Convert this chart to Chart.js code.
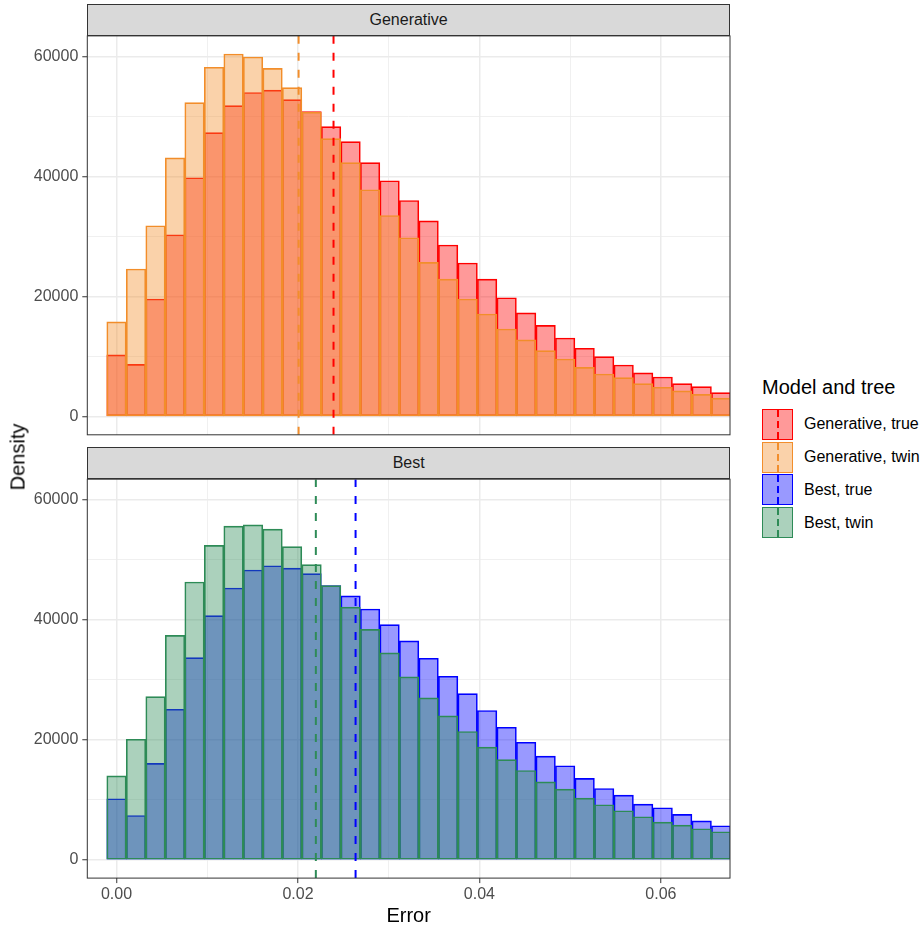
<!DOCTYPE html>
<html>
<head>
<meta charset="utf-8">
<title>Error density</title>
<script src="https://cdn.jsdelivr.net/npm/chart.js@4.4.1/dist/chart.umd.min.js"></script>
<style>
  body { margin: 0; background: #fff; font-family: "Liberation Sans", Arial, sans-serif; }
  #wrap { position: relative; width: 924px; height: 926px; overflow: hidden; }
  canvas { position: absolute; left: 0; }
  .strip {
    position: absolute; left: 87.3px; width: 642.7px; height: 32px;
    box-sizing: border-box; background: #d9d9d9; border: 1px solid #333;
    display: flex; align-items: center; justify-content: center;
    font-size: 16px; color: #1a1a1a;
  }
  .axis-title { position: absolute; font-size: 20px; color: #000; white-space: nowrap; }
  #legend { position: absolute; left: 762px; top: 377px; }
  #legend .title { font-size: 20px; line-height: 20px; height: 31px; }
  #legend .row { display: flex; align-items: center; height: 32.8px; }
  #legend .key { position: relative; width: 31px; height: 31px; box-sizing: border-box; border: 1.5px solid; }
  #legend .dash { position: absolute; left: 13.5px; top: 0; width: 2px; height: 100%; }
  #legend .lab { margin-left: 11px; font-size: 16px; line-height: 16px; color: #000; }
</style>
</head>
<body>
<div id="wrap">
  <canvas id="genChart" width="740" height="440" style="top:0"></canvas>
  <canvas id="bestChart" width="740" height="486" style="top:440px"></canvas>
  <div class="strip" style="top:3.7px">Generative</div>
  <div class="strip" style="top:446.5px">Best</div>
  <div class="axis-title" style="left:18px; top:457px; transform: translate(-50%, -50%) rotate(-90deg);">Density</div>
  <div class="axis-title" style="left:408.7px; top:915px; transform: translate(-50%, -50%);">Error</div>
  <div id="legend"></div>
</div>
<script>
// histogram bin centres (binwidth ~0.00215)
const binCenters = [0, 0.00215, 0.0043, 0.00645, 0.0086, 0.01075, 0.0129, 0.01505,
  0.0172, 0.01935, 0.0215, 0.02365, 0.0258, 0.02795, 0.0301, 0.03225,
  0.0344, 0.03655, 0.0387, 0.04085, 0.043, 0.04515, 0.0473, 0.04945,
  0.0516, 0.05375, 0.0559, 0.05805, 0.0602, 0.06235, 0.0645, 0.06665]

const genTrue = [10300, 8700, 19600, 30300, 39800, 47300, 51800, 54000,
  54400, 52800, 50800, 48300, 45800, 42300, 39300, 36000,
  32600, 28600, 25600, 22900, 19800, 17300, 15200, 13100,
  11400, 10000, 8600, 7300, 6600, 5500, 5000, 4000]
const genTwin = [15800, 24600, 31800, 43100, 52300, 58200, 60400, 59900,
  58000, 54800, 50700, 46300, 42300, 37800, 33500, 29800,
  25700, 22900, 19600, 17100, 14600, 12800, 11000, 9600,
  8200, 7100, 6500, 5500, 4900, 4300, 3700, 3100]
const bestTrue = [10200, 7400, 16100, 25100, 33700, 40700, 45300, 48300,
  49000, 48600, 47700, 45700, 44000, 41800, 39200, 36500,
  33600, 30600, 27700, 24900, 22100, 19600, 17300, 15700,
  13600, 11900, 10800, 9300, 8700, 7600, 6500, 5700]
const bestTwin = [14000, 20100, 27200, 37400, 46300, 52400, 55600, 55800,
  55100, 52200, 49200, 45700, 42100, 38400, 34500, 30500,
  27000, 24000, 21400, 18800, 16700, 14900, 13000, 11800,
  10300, 9200, 8200, 7200, 6300, 5800, 5200, 4700]

// dashed mean lines: [true, twin]
const genMeans = [0.02392, 0.02007]
const bestMeans = [0.02635, 0.02197]

const xTicks = [0, 0.02, 0.04, 0.06]
const xMinor = [0.01, 0.03, 0.05]
const yTicks = [0, 20000, 40000, 60000]
const yMinor = [10000, 30000, 50000]

const legendLabels = ["Generative, true", "Generative, twin", "Best, true", "Best, twin"]
const legendColors = ["#FF0000", "#F28E2B", "#0000FF", "#2E8B57"]

// shared axis limits (ggplot style 5% expansion)
const yPeak = Math.max(...genTrue, ...genTwin, ...bestTrue, ...bestTwin)
const yMin = -0.05 * yPeak
const yMax = 1.05 * yPeak
const xMin = -0.00322
const xMax = 0.06762

function fillOf(hex) {
  const r = parseInt(hex.slice(1, 3), 16)
  const g = parseInt(hex.slice(3, 5), 16)
  const b = parseInt(hex.slice(5, 7), 16)
  return `rgba(${r}, ${g}, ${b}, 0.4)`
}

const tickFont = { family: "Liberation Sans", size: 16 }

// panel border drawn on top, like theme_bw
const panelBorder = {
  id: "panelBorder",
  afterDraw(chart) {
    const { ctx, chartArea: a } = chart
    ctx.save()
    ctx.strokeStyle = "#333333"
    ctx.lineWidth = 1
    ctx.strokeRect(a.left, a.top, a.right - a.left, a.bottom - a.top)
    ctx.restore()
  },
}

// keep the plot area exactly where it is in the picture
function noScalePadding(scale) {
  scale.paddingTop = 0
  scale.paddingBottom = 0
  scale.paddingLeft = 0
  scale.paddingRight = 0
}

function histSet(values, color, order) {
  return {
    type: "bar",
    data: binCenters.map((x, i) => ({ x: x, y: values[i] })),
    backgroundColor: fillOf(color),
    borderColor: color,
    borderWidth: 1,
    borderSkipped: false,
    barPercentage: 1,
    categoryPercentage: 1,
    grouped: false,
    order: order,
  }
}

function meanSet(x, color) {
  return {
    type: "line",
    data: [{ x: x, y: yMin }, { x: x, y: yMax }],
    borderColor: color,
    borderWidth: 2,
    borderDash: [8, 9],
    pointRadius: 0,
    fill: false,
    order: 0,
  }
}

function makeChart(id, trueVals, twinVals, means, trueColor, twinColor, opts) {
  const isMajorX = (v) => xTicks.includes(v)
  const isMajorY = (v) => yTicks.includes(v)
  return new Chart(document.getElementById(id), {
    type: "bar",
    data: {
      datasets: [
        histSet(trueVals, trueColor, 2),
        histSet(twinVals, twinColor, 1),
        meanSet(means[0], trueColor),
        meanSet(means[1], twinColor),
      ],
    },
    options: {
      responsive: false,
      devicePixelRatio: 1,
      animation: false,
      events: [],
      layout: { padding: { top: opts.top, right: 10, left: 0, bottom: 0 } },
      plugins: { legend: { display: false }, tooltip: { enabled: false } },
      scales: {
        x: {
          type: "linear",
          min: xMin,
          max: xMax,
          offset: false,
          border: { display: false },
          grid: {
            offset: false,
            color: "#EBEBEB",
            lineWidth: (c) => (isMajorX(c.tick.value) ? 1.5 : 0.75),
            drawTicks: opts.showX,
            tickLength: 5,
            tickWidth: 1,
            tickColor: (c) => (isMajorX(c.tick.value) ? "#333333" : "rgba(0,0,0,0)"),
          },
          afterBuildTicks: (scale) => {
            scale.ticks = [...xTicks, ...xMinor].sort((a, b) => a - b).map((v) => ({ value: v }))
          },
          afterFit: (scale) => {
            scale.height = opts.xHeight
            noScalePadding(scale)
          },
          ticks: {
            display: opts.showX,
            autoSkip: false,
            maxRotation: 0,
            padding: 2,
            color: "#4D4D4D",
            font: tickFont,
            callback: (v) => (isMajorX(v) ? v.toFixed(2) : ""),
          },
        },
        y: {
          min: yMin,
          max: yMax,
          border: { display: false },
          grid: {
            color: "#EBEBEB",
            lineWidth: (c) => (isMajorY(c.tick.value) ? 1.5 : 0.75),
            tickLength: 5,
            tickWidth: 1,
            tickColor: (c) => (isMajorY(c.tick.value) ? "#333333" : "rgba(0,0,0,0)"),
          },
          afterBuildTicks: (scale) => {
            scale.ticks = [...yTicks, ...yMinor].sort((a, b) => a - b).map((v) => ({ value: v }))
          },
          afterFit: (scale) => {
            scale.width = 87.3
            noScalePadding(scale)
          },
          ticks: {
            autoSkip: false,
            padding: 4,
            color: "#4D4D4D",
            font: tickFont,
            callback: (v) => (isMajorY(v) ? String(v) : ""),
          },
        },
      },
    },
    plugins: [panelBorder],
  })
}

makeChart("genChart", genTrue, genTwin, genMeans, legendColors[0], legendColors[1],
  { top: 35.9, xHeight: 5.2, showX: false })
makeChart("bestChart", bestTrue, bestTwin, bestMeans, legendColors[2], legendColors[3],
  { top: 39.2, xHeight: 47.9, showX: true })

// legend
const legend = document.getElementById("legend")
legend.innerHTML = '<div class="title">Model and tree</div>'
legendLabels.forEach((label, i) => {
  const c = legendColors[i]
  const row = document.createElement("div")
  row.className = "row"
  row.innerHTML =
    `<div class="key" style="border-color:${c}; background:${fillOf(c)}">` +
    `<div class="dash" style="background: repeating-linear-gradient(to bottom, ${c} 0 7px, transparent 7px 11px)"></div></div>` +
    `<div class="lab">${label}</div>`
  legend.appendChild(row)
})
</script>
</body>
</html>
